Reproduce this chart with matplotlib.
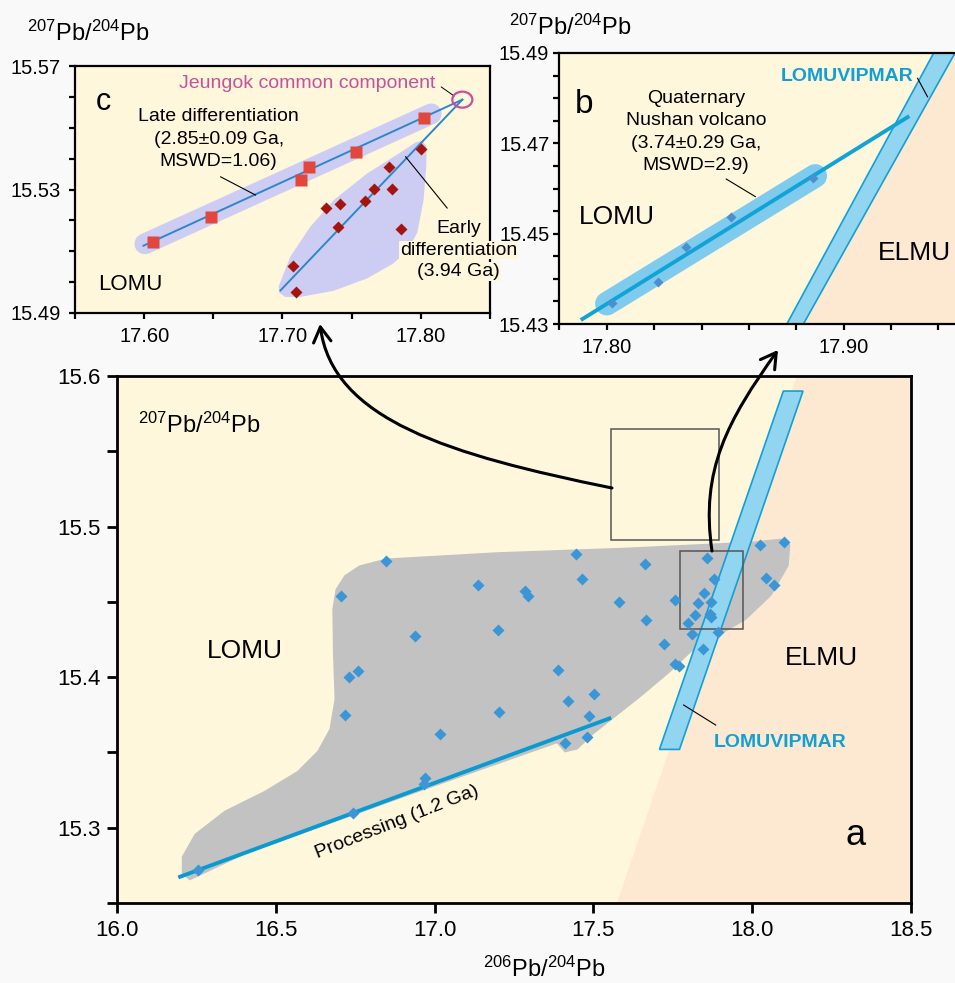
import matplotlib
matplotlib.use("Agg")
import matplotlib.pyplot as plt
import matplotlib.transforms as mtransforms
from matplotlib.patches import Polygon, Ellipse, FancyArrowPatch, Rectangle
from matplotlib.path import Path
from matplotlib.ticker import FixedLocator, MultipleLocator

plt.rcParams["font.family"] = ["Liberation Sans", "DejaVu Sans"]
plt.rcParams["mathtext.fontset"] = "custom"
plt.rcParams["mathtext.rm"] = "Liberation Sans"
plt.rcParams["mathtext.it"] = "Liberation Sans:italic"

W, H = 955, 983
YELLOW = "#FFF7DC"
PEACH = "#FDE8D2"
GREY = "#C2C2C2"
LAVENDER = "#CDCDF3"
BAND = "#92D5F0"
BAND_EDGE = "#12A0D4"
PT_BLUE = "#3A96D6"
PB_LABEL = r"$^{207}$Pb/$^{204}$Pb"

# ---- panel a: whole-rock data ----
A_X = [16.847, 17.446, 17.465, 17.137, 17.285, 17.295, 17.582, 16.704, 17.200,
       16.938, 16.760, 16.732, 17.389, 17.502, 17.419, 16.718, 17.203, 17.485,
       17.018, 17.412, 17.481, 16.970, 16.966, 16.742, 16.254, 17.661, 17.666,
       17.756, 17.721, 17.758, 17.770, 17.859, 17.881, 17.848, 17.829, 17.871,
       17.819, 17.798, 17.867, 17.871, 17.810, 17.891, 17.845, 18.023, 18.101,
       18.042, 18.070]
A_Y = [15.477, 15.482, 15.465, 15.461, 15.457, 15.454, 15.450, 15.454, 15.431,
       15.427, 15.404, 15.400, 15.405, 15.389, 15.384, 15.375, 15.377, 15.374,
       15.362, 15.356, 15.360, 15.333, 15.329, 15.310, 15.272, 15.475, 15.438,
       15.451, 15.422, 15.409, 15.4075, 15.479, 15.465, 15.456, 15.449, 15.450,
       15.441, 15.436, 15.442, 15.440, 15.4285, 15.430, 15.4185, 15.4876, 15.490,
       15.466, 15.461]
PROC_X = [16.193, 17.556]
PROC_Y = [15.267, 15.373]
FIELD_X = [16.229, 16.204, 16.204, 16.245, 16.339, 16.465, 16.568, 16.631, 16.669,
           16.685, 16.680, 16.678, 16.688, 16.716, 16.763, 16.848, 17.20, 17.60,
           18.00, 18.09, 18.12, 18.115, 18.06, 17.98, 17.89, 17.81, 17.74, 17.65,
           17.56, 17.50, 17.45, 17.41, 17.385, 16.90, 16.40]
FIELD_Y = [15.265, 15.2695, 15.2808, 15.296, 15.3113, 15.3245, 15.3377, 15.351, 15.3656,
           15.3854, 15.415, 15.445, 15.4583, 15.4676, 15.4742, 15.4788, 15.483, 15.486,
           15.490, 15.492, 15.488, 15.474, 15.454, 15.438, 15.427, 15.417, 15.403, 15.387,
           15.372, 15.362, 15.352, 15.350, 15.356, 15.320, 15.282]
BAND_A_X = [17.708, 17.771, 18.160, 18.098]
BAND_A_Y = [15.352, 15.352, 15.590, 15.590]
ELMU_A_X = [17.575, 18.5, 18.5, 18.142]
ELMU_A_Y = [15.25, 15.25, 15.6, 15.6]
BOX_C = (17.555, 15.491, 0.342, 0.074)
BOX_B = (17.773, 15.432, 0.197, 0.052)

# ---- panel c: Jeungok ----
LATE_X = [17.6063, 17.6483, 17.7132, 17.7192, 17.7532, 17.8022]
LATE_Y = [15.5129, 15.5212, 15.5331, 15.5372, 15.5421, 15.5533]
EARLY_X = [17.7074, 17.7101, 17.7311, 17.7419, 17.7400, 17.7593, 17.7660, 17.7769,
           17.7793, 17.7860, 17.8003]
EARLY_Y = [15.5051, 15.4969, 15.5240, 15.5252, 15.5180, 15.5262, 15.5301, 15.5372,
           15.5301, 15.5171, 15.5431]
LATE_LINE_X = [17.5995, 17.830]
LATE_LINE_Y = [15.5118, 15.5591]
EARLY_LINE_X = [17.6985, 17.830]
EARLY_LINE_Y = [15.4973, 15.5591]
LATE_ENV_X = [17.6005, 17.8075]
LATE_ENV_Y = [15.5124, 15.5545]
EARLY_ENV_X = [17.6972, 17.7057, 17.7202, 17.7371, 17.7612, 17.7853, 17.7960, 17.8010,
               17.8040, 17.8040, 17.8020, 17.7974, 17.7900, 17.7800, 17.7612, 17.7371,
               17.7129, 17.7020, 17.6975]
EARLY_ENV_Y = [15.4986, 15.5083, 15.5180, 15.5266, 15.5352, 15.5420, 15.5452, 15.5458,
               15.5440, 15.5380, 15.5266, 15.5160, 15.5100, 15.5060, 15.5012, 15.4972,
               15.4952, 15.4952, 15.4966]
JEUNGOK = (17.830, 15.5591)

# ---- panel b: Nushan ----
NUSHAN_X = [17.802, 17.8215, 17.8335, 17.8525, 17.887]
NUSHAN_Y = [15.4347, 15.4394, 15.4471, 15.4536, 15.4623]
NUSHAN_LINE_X = [17.7897, 17.927]
NUSHAN_LINE_Y = [15.4311, 15.4758]
NUSHAN_ENV_X = [17.8000, 17.8880]
NUSHAN_ENV_Y = [15.4345, 15.4628]
BAND_B_X = [17.876, 17.883, 17.947, 17.938]
BAND_B_Y = [15.43, 15.43, 15.49, 15.49]
ELMU_B_X = [17.8795, 17.95, 17.95, 17.9425]
ELMU_B_Y = [15.43, 15.43, 15.49, 15.49]

fig = plt.figure(figsize=(W / 100, H / 100), dpi=100, facecolor="#F9F9F9")
PX = mtransforms.Affine2D().scale(1 / W, -1 / H).translate(0, 1) + fig.transFigure


def axes_px(left, top, right, bottom):
    ax = fig.add_axes([left / W, 1 - bottom / H, (right - left) / W, (bottom - top) / H])
    ax.set_facecolor(YELLOW)
    return ax


def poly(ax, xs, ys, **kw):
    ax.add_patch(Polygon(list(zip(xs, ys)), closed=True, **kw))


def style_ticks(ax, size, length, pad, lw):
    ax.tick_params(which="both", direction="out", length=length, width=lw,
                   labelsize=size, pad=pad, top=False, right=False)
    for s in ax.spines.values():
        s.set_linewidth(lw)


# ================= panel a =================
ax = axes_px(117, 376, 911, 903)
ax.set_xlim(16.0, 18.5)
ax.set_ylim(15.25, 15.6)
poly(ax, ELMU_A_X, ELMU_A_Y, fc=PEACH, ec="none", zorder=1)
poly(ax, FIELD_X, FIELD_Y, fc=GREY, ec="none", zorder=2)
poly(ax, BAND_A_X, BAND_A_Y, fc=BAND, ec=BAND_EDGE, lw=1.2, zorder=3)
ax.plot(PROC_X, PROC_Y, color="#0A9AD2", lw=2.8, solid_capstyle="butt", zorder=4)
for bx in (BOX_C, BOX_B):
    ax.add_patch(Rectangle(bx[:2], bx[2], bx[3], fill=False, ec="#555555", lw=1.1, zorder=4))
ax.plot(A_X, A_Y, "D", color=PT_BLUE, ms=6.5, mec="none", zorder=5)
ax.xaxis.set_major_locator(MultipleLocator(0.5))
ax.xaxis.set_major_formatter(plt.FormatStrFormatter("%.1f"))
ax.yaxis.set_major_locator(FixedLocator([15.3, 15.4, 15.5, 15.6]))
ax.yaxis.set_minor_locator(FixedLocator([15.25, 15.35, 15.45, 15.55]))
ax.yaxis.set_major_formatter(plt.FormatStrFormatter("%.1f"))
style_ticks(ax, 16, 7, 5, 2.0)
ax.text(16.26, 15.5675, PB_LABEL, fontsize=17, ha="center", va="center")
ax.text(16.402, 15.4174, "LOMU", fontsize=19, ha="center", va="center")
ax.text(18.219, 15.4124, "ELMU", fontsize=19, ha="center", va="center")
ax.text(18.324, 15.295, "a", fontsize=26, ha="center", va="center")
ax.text(16.883, 15.3035, "Processing (1.2 Ga)", fontsize=14, rotation=21.5,
        ha="center", va="center", rotation_mode="anchor")
ax.text(18.088, 15.3568, "LOMUVIPMAR", fontsize=14, fontweight="bold",
        color=BAND_EDGE, ha="center", va="center")
ax.plot([17.784, 17.885], [15.3815, 15.3682], color="k", lw=0.8, zorder=4)
fig.text(544 / W, 1 - 969 / H, r"$^{206}$Pb/$^{204}$Pb", fontsize=17, ha="center", va="center")

# ================= panel c =================
ax = axes_px(75, 66, 490, 313)
ax.set_xlim(17.55, 17.85)
ax.set_ylim(15.49, 15.57)
ax.plot(LATE_ENV_X, LATE_ENV_Y, color=LAVENDER, lw=15, solid_capstyle="round", zorder=1)
poly(ax, EARLY_ENV_X, EARLY_ENV_Y, fc=LAVENDER, ec="none", zorder=1)
ax.plot(LATE_LINE_X, LATE_LINE_Y, color="#2F86C8", lw=1.4, zorder=2)
ax.plot(EARLY_LINE_X, EARLY_LINE_Y, color="#2F86C8", lw=1.4, zorder=2)
ax.plot(LATE_X, LATE_Y, "s", color="#E2473D", ms=8.5, mec="none", zorder=3)
ax.plot(EARLY_X, EARLY_Y, "D", color="#A3150E", ms=6.5, mec="none", zorder=3)
ax.add_patch(Ellipse(JEUNGOK, 0.0145, 0.0052, fill=False, ec="#C8509A", lw=1.6, zorder=4))
ax.xaxis.set_major_locator(FixedLocator([17.60, 17.70, 17.80]))
ax.xaxis.set_minor_locator(FixedLocator([17.55, 17.65, 17.75, 17.85]))
ax.xaxis.set_major_formatter(plt.FormatStrFormatter("%.2f"))
ax.yaxis.set_major_locator(FixedLocator([15.49, 15.53, 15.57]))
ax.yaxis.set_minor_locator(MultipleLocator(0.01))
ax.yaxis.set_major_formatter(plt.FormatStrFormatter("%.2f"))
style_ticks(ax, 14.5, 4, 6, 1.6)
ax.text(17.5706, 15.5584, "c", fontsize=22, ha="center", va="center")
ax.text(17.7176, 15.5643, "Jeungok common component", fontsize=14,
        color="#C8509A", ha="center", va="center")
ax.plot([17.8148, 17.824], [15.5632, 15.5603], color="k", lw=0.7)
for y, s in zip([15.5535, 15.5462, 15.5390],
                ["Late differentiation", "(2.85\u00b10.09 Ga,", "MSWD=1.06)"]):
    ax.text(17.6538, y, s, fontsize=14, ha="center", va="center")
ax.plot([17.6553, 17.6805], [15.5341, 15.5282], color="k", lw=0.8)
for y, s in zip([15.5174, 15.5104, 15.5034], ["Early", "differentiation", "(3.94 Ga)"]):
    ax.text(17.8274, y, s, fontsize=14, ha="center", va="center", clip_on=False,
            zorder=5, bbox=dict(fc=YELLOW, ec="none", pad=0.5))
ax.plot([17.819, 17.789], [15.524, 15.5406], color="k", lw=0.8)
ax.text(17.5899, 15.4991, "LOMU", fontsize=16, ha="center", va="center")
fig.text(88 / W, 1 - 33 / H, PB_LABEL, fontsize=17, ha="center", va="center")

# ================= panel b =================
ax = axes_px(559, 53, 955, 324)
ax.set_xlim(17.7798, 17.947)
ax.set_ylim(15.43, 15.49)
ax.spines["right"].set_visible(False)
poly(ax, ELMU_B_X, ELMU_B_Y, fc=PEACH, ec="none", zorder=1)
poly(ax, BAND_B_X, BAND_B_Y, fc=BAND, ec=BAND_EDGE, lw=1.2, zorder=2)
ax.plot(NUSHAN_ENV_X, NUSHAN_ENV_Y, color="#7FCBEE", lw=17, solid_capstyle="round", zorder=2)
ax.plot(NUSHAN_LINE_X, NUSHAN_LINE_Y, color="#12A3D6", lw=2.8, zorder=3)
ax.plot(NUSHAN_X, NUSHAN_Y, "D", color="#4A8FD0", ms=5, mec="none", zorder=4)
ax.xaxis.set_major_locator(FixedLocator([17.80, 17.90]))
ax.xaxis.set_minor_locator(MultipleLocator(0.02))
ax.xaxis.set_major_formatter(plt.FormatStrFormatter("%.2f"))
ax.yaxis.set_major_locator(FixedLocator([15.43, 15.45, 15.47, 15.49]))
ax.yaxis.set_minor_locator(MultipleLocator(0.005))
ax.yaxis.set_major_formatter(plt.FormatStrFormatter("%.2f"))
style_ticks(ax, 14.5, 4, 3, 1.6)
ax.tick_params(axis="x", pad=6)
ax.text(17.7902, 15.4785, "b", fontsize=24, ha="center", va="center")
for y, s in zip([15.4800, 15.4751, 15.4700, 15.4651],
                ["Quaternary", "Nushan volcano", "(3.74\u00b10.29 Ga,", "MSWD=2.9)"]):
    ax.text(17.8377, y, s, fontsize=14, ha="center", va="center")
ax.plot([17.8504, 17.8627], [15.4621, 15.4582], color="k", lw=0.8, zorder=3)
ax.text(17.8044, 15.4538, "LOMU", fontsize=19, ha="center", va="center")
ax.text(17.9298, 15.4457, "ELMU", fontsize=19, ha="center", va="center")
ax.text(17.9016, 15.4848, "LOMUVIPMAR", fontsize=14, fontweight="bold",
        color=BAND_EDGE, ha="center", va="center")
ax.plot([17.9312, 17.9354], [15.4844, 15.4803], color="k", lw=0.8, zorder=3)
fig.text(570 / W, 1 - 27 / H, PB_LABEL, fontsize=17, ha="center", va="center")

# ---- curved arrows linking the zoom boxes to the insets ----
for verts in ([(612, 488), (450, 455), (332, 420), (320, 324)],
              [(712, 551), (700, 470), (728, 420), (778, 350)]):
    arrow = FancyArrowPatch(path=Path(verts, [Path.MOVETO, Path.CURVE4, Path.CURVE4, Path.CURVE4]),
                            arrowstyle="->,head_length=0.6,head_width=0.35", mutation_scale=18,
                            lw=2.2, color="k", transform=PX, zorder=10)
    fig.add_artist(arrow)

fig.savefig("out.png", dpi=100, facecolor=fig.get_facecolor())
